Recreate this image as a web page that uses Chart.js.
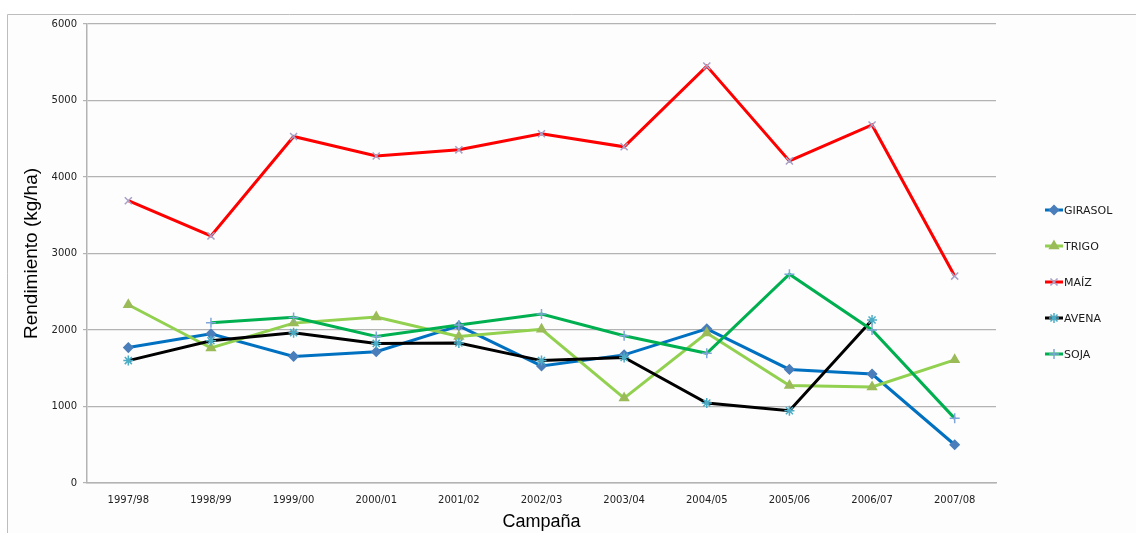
<!DOCTYPE html>
<html>
<head>
<meta charset="utf-8">
<script src="https://cdn.jsdelivr.net/npm/chart.js@4"></script>
<style>
  html,body{margin:0;padding:0;background:#fff;}
  #wrap{width:1136px;height:533px;position:relative;}
</style>
</head>
<body>
<div id="wrap"><canvas id="chart" width="1136" height="533"></canvas></div>
<script>
// campañas
const campanas = ["1997/98","1998/99","1999/00","2000/01","2001/02","2002/03","2003/04","2004/05","2005/06","2006/07","2007/08"];
// rendimiento kg/ha
const girasol = [1770,1950,1655,1715,2055,1530,1675,2015,1485,1425,500];
const trigo   = [2330,1765,2090,2170,1915,2010,1110,1960,1275,1255,1610];
const maiz    = [3690,3230,4530,4275,4355,4565,4395,5450,4210,4680,2705];
const avena   = [1600,1860,1965,1825,1830,1600,1640,1045,945,2130,null];
const soja    = [null,2095,2165,1915,2065,2210,1925,1695,2730,2000,845];
const yTicks  = [0,1000,2000,3000,4000,5000,6000];

const series = [
  {label:"GIRASOL", data:girasol, line:"#0070C0", mark:"#4A7EBB", style:"rectRot", r:4.5},
  {label:"TRIGO",   data:trigo,   line:"#92D050", mark:"#9BBB59", style:"triangle", r:5},
  {label:"MAÍZ",    data:maiz,    line:"#FF0000", mark:"#A7A0C8", style:"crossRot", r:5},
  {label:"AVENA",   data:avena,   line:"#000000", mark:"#4BACC6", style:"star", r:5},
  {label:"SOJA",    data:soja,    line:"#00B050", mark:"#7FA6D8", style:"cross", r:5}
];

const tickFont = {family:"DejaVu Sans", size:10};

// outer frame + legend drawn by hand
const frame = {
  id:"frame",
  beforeDraw(c){
    const ctx = c.ctx;
    ctx.save();
    ctx.fillStyle = "#fdfdfd";
    ctx.fillRect(8,15,1128,518);
    ctx.strokeStyle = "#bdbdbd";
    ctx.lineWidth = 1;
    ctx.beginPath();
    ctx.moveTo(7.5,533); ctx.lineTo(7.5,14.5); ctx.lineTo(1136,14.5);
    ctx.stroke();
    ctx.restore();
  },
  afterDraw(c){
    const ctx = c.ctx;
    ctx.save();
    ctx.font = "11px 'DejaVu Sans'";
    ctx.textBaseline = "middle";
    series.forEach((s,i)=>{
      const y = 210 + i*36;
      ctx.strokeStyle = s.line; ctx.lineWidth = 3;
      ctx.beginPath(); ctx.moveTo(1045,y); ctx.lineTo(1063,y); ctx.stroke();
      ctx.fillStyle = s.mark; ctx.strokeStyle = s.mark; ctx.lineWidth = 1.5;
      Chart.helpers.drawPoint(ctx,{pointStyle:s.style,radius:s.r,borderWidth:1.5,rotation:0},1054,y);
      ctx.fillStyle = "#1a1a1a";
      ctx.fillText(s.label,1064,y+1);
    });
    ctx.restore();
  }
};

new Chart(document.getElementById("chart"),{
  type:"line",
  data:{
    labels:campanas,
    datasets:series.map((s,i)=>({
      label:s.label,
      data:s.data,
      borderColor:s.line,
      backgroundColor:s.mark,
      borderWidth:3,
      pointStyle:s.style,
      pointRadius:s.r,
      pointBackgroundColor:s.mark,
      pointBorderColor:s.mark,
      pointBorderWidth:1.5,
      tension:0,
      spanGaps:false,
      order:5-i
    }))
  },
  options:{
    responsive:false,
    animation:false,
    events:[],
    layout:{padding:{left:0,right:140,top:24,bottom:0}},
    plugins:{legend:{display:false},tooltip:{enabled:false}},
    scales:{
      x:{
        offset:true,
        grid:{display:false,drawTicks:false,offset:true},
        border:{color:"#b3b3b3",width:1.5},
        ticks:{font:tickFont,color:"#222",padding:11,maxRotation:0,autoSkip:false},
        title:{display:true,text:"Campaña",font:{family:"Liberation Sans",size:18},color:"#000",padding:{top:4,bottom:0}},
        afterFit(s){s.height=50;}
      },
      y:{
        min:0,max:6000,
        afterBuildTicks(s){s.ticks = yTicks.map(v=>({value:v}));},
        grid:{color:"#b3b3b3",lineWidth:1.2,tickLength:4,drawTicks:true},
        border:{color:"#b3b3b3",width:1.5},
        ticks:{font:tickFont,color:"#222",padding:6,callback:v=>String(v)},
        title:{display:true,text:"Rendimiento (kg/ha)",font:{family:"Liberation Sans",size:19},color:"#000",padding:{top:20,bottom:0}},
        afterFit(s){s.width=87;}
      }
    }
  },
  plugins:[frame]
});
</script>
</body>
</html>
